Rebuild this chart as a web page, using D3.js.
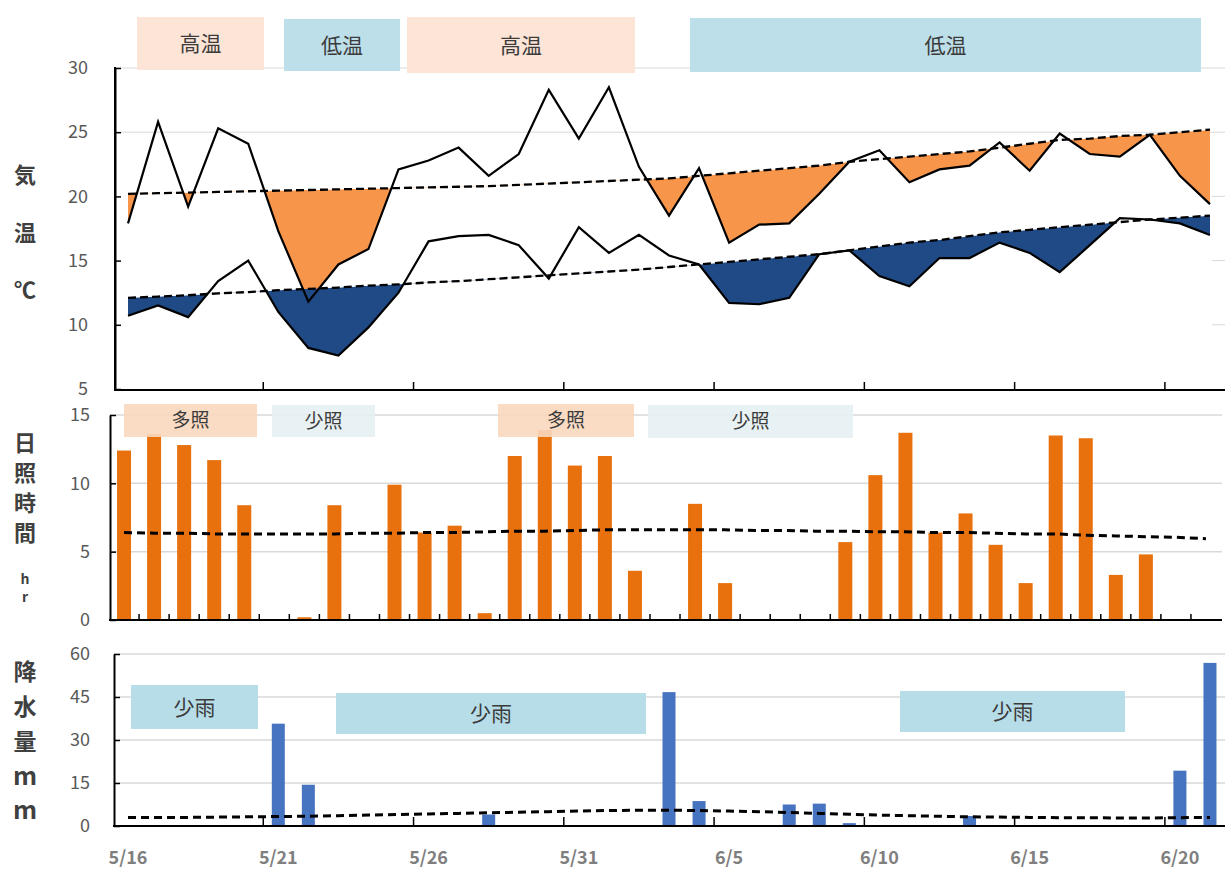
<!DOCTYPE html>
<html><head><meta charset="utf-8">
<script src="https://cdn.jsdelivr.net/npm/d3@7"></script>
<style>body{margin:0;background:#fff}svg{display:block}</style>
</head><body>
<svg id="c" width="1226" height="870"></svg>
<script>
// ---------- data ----------
const dates = ["5/16","5/17","5/18","5/19","5/20","5/21","5/22","5/23","5/24","5/25","5/26","5/27","5/28","5/29","5/30","5/31",
  "6/1","6/2","6/3","6/4","6/5","6/6","6/7","6/8","6/9","6/10","6/11","6/12","6/13","6/14","6/15","6/16","6/17","6/18","6/19","6/20","6/21"];
const dateTickLabels = ["5/16","5/21","5/26","5/31","6/5","6/10","6/15","6/20"];

const tempHigh = [17.9,25.8,19.2,25.3,24.1,17.3,11.8,14.7,15.9,22.1,22.8,23.8,21.6,23.3,28.3,24.5,
  28.5,22.3,18.5,22.2,16.4,17.8,17.9,20.2,22.7,23.6,21.1,22.1,22.4,24.2,22.0,24.9,23.3,23.1,24.8,21.6,19.4];
const tempLow = [10.7,11.5,10.6,13.4,15.0,11.0,8.2,7.6,9.8,12.5,16.5,16.9,17.0,16.2,13.6,17.6,
  15.6,17.0,15.4,14.7,11.7,11.6,12.1,15.5,15.8,13.8,13.0,15.2,15.2,16.4,15.6,14.1,16.2,18.3,18.2,17.9,17.0];
const normalHigh = [20.2,20.25,20.3,20.35,20.4,20.45,20.5,20.55,20.6,20.65,20.7,20.75,20.8,20.9,21.0,21.1,
  21.2,21.3,21.4,21.6,21.8,22.0,22.2,22.4,22.7,22.9,23.1,23.3,23.5,23.8,24.1,24.4,24.5,24.7,24.8,25.0,25.2];
const normalLow = [12.1,12.2,12.3,12.45,12.55,12.7,12.8,12.9,13.05,13.15,13.3,13.4,13.55,13.7,13.85,14.0,
  14.15,14.3,14.5,14.7,14.9,15.1,15.3,15.5,15.8,16.1,16.4,16.6,16.9,17.2,17.4,17.6,17.8,18.0,18.2,18.35,18.5];

const sunshine = [12.4,13.6,12.8,11.7,8.4,0,0.2,8.4,0,9.9,6.4,6.9,0.5,12.0,13.9,11.3,
  12.0,3.6,0,8.5,2.7,0,0,0,5.7,10.6,13.7,6.4,7.8,5.5,2.7,13.5,13.3,3.3,4.8,0,0];
const normalSunshine = [6.4,6.35,6.35,6.3,6.3,6.3,6.3,6.3,6.35,6.35,6.4,6.4,6.45,6.5,6.5,6.55,
  6.6,6.6,6.6,6.6,6.6,6.55,6.55,6.5,6.5,6.45,6.45,6.4,6.4,6.35,6.3,6.3,6.2,6.15,6.1,6.05,5.95];

const rain = [0,0,0,0,0,35.7,14.4,0,0,0,0,0,4.0,0,0,0,
  0,0,46.7,8.7,0,0,7.5,7.8,1.0,0,0,0,3.5,0,0,0,0,0,0,19.3,56.9];
const normalRain = [3.0,3.0,3.0,3.1,3.2,3.3,3.4,3.6,3.8,4.0,4.2,4.4,4.6,4.8,5.0,5.2,
  5.4,5.5,5.5,5.4,5.2,5.0,4.7,4.4,4.1,3.8,3.6,3.4,3.2,3.1,3.0,2.9,2.9,2.8,2.8,2.9,3.0];

const tempTicks = [5,10,15,20,25,30];
const sunTicks = [0,5,10,15];
const rainTicks = [0,15,30,45,60];

const tempLabels = [{t:"高温",k:"hot",x0:137,x1:264,y0:17,y1:70},{t:"低温",k:"cold",x0:284,x1:400,y0:19,y1:71},
  {t:"高温",k:"hot",x0:407,x1:635,y0:17,y1:73},{t:"低温",k:"cold",x0:690,x1:1201,y0:18,y1:72}];
const sunLabels = [{t:"多照",k:"many",x0:124,x1:257,y0:404,y1:437},{t:"少照",k:"few",x0:272,x1:375,y0:405,y1:437},
  {t:"多照",k:"many",x0:498,x1:634,y0:404,y1:437},{t:"少照",k:"few",x0:648,x1:853,y0:405,y1:438}];
const rainLabels = [{t:"少雨",x0:131,x1:258,y0:685,y1:729},{t:"少雨",x0:336,x1:646,y0:693,y1:734},
  {t:"少雨",x0:900,x1:1125,y0:691,y1:732}];

// ---------- drawing ----------
const svg = d3.select("#c");
const FONT = "'Noto Sans CJK JP','Noto Sans',sans-serif";
const boxFill = {hot:"#FCE4D6", cold:"#BDDFEA", many:"#FAD8BF", few:"#E5F1F4"};

function xBand(x0, x1){ return d3.scaleBand().domain(dates).range([x0, x1]).paddingInner(0).paddingOuter(0); }
const xT = xBand(113, 1225), xS = xBand(109, 1221), xR = xBand(113, 1225);
const cx = (sc, i) => sc(dates[i]) + sc.bandwidth()/2;

function yAxis(g, scale, ticks, xPos, pad){
  const ax = d3.axisLeft(scale).tickValues(ticks).tickSizeInner(-6).tickSizeOuter(0).tickPadding(pad);
  const gg = g.append("g").attr("transform", `translate(${xPos},0)`).call(ax);
  gg.select(".domain").attr("stroke","#000").attr("stroke-width",2);
  gg.selectAll(".tick line").attr("stroke","#000").attr("stroke-width",1.5);
  gg.selectAll(".tick text").attr("font-family",FONT).attr("font-size",18).attr("fill","#595959");
  return gg;
}
function xAxisLine(scale, y, x0, x1, every, len){
  svg.append("line").attr("x1",x0).attr("x2",x1).attr("y1",y).attr("y2",y).attr("stroke","#000").attr("stroke-width",2);
  const idx = d3.range(every, dates.length, every);
  svg.append("g").selectAll("line").data(idx).join("line")
    .attr("x1", i => scale(dates[i])).attr("x2", i => scale(dates[i]))
    .attr("y1", y).attr("y2", y - len).attr("stroke","#000").attr("stroke-width",1.5);
}

// ===== Panel 1: temperature =====
const yT = d3.scaleLinear().domain([5,30]).range([389,68]);
[30,25].forEach(v => svg.append("line").attr("x1",115).attr("x2",1225).attr("y1",yT(v)).attr("y2",yT(v)).attr("stroke","#d9d9d9").attr("stroke-width",1));
[20,15,10].forEach(v => svg.append("line").attr("x1",1212).attr("x2",1225).attr("y1",yT(v)).attr("y2",yT(v)).attr("stroke","#d9d9d9").attr("stroke-width",1));

const idxs = d3.range(dates.length);
const defs = svg.append("defs");
function belowClip(id, normal){
  const ln = d3.line().x(i => cx(xT,i)).y(i => yT(normal[i]));
  const d = ln(idxs) + `L${cx(xT,dates.length-1)},${yT(5)+5}L${cx(xT,0)},${yT(5)+5}Z`;
  defs.append("clipPath").attr("id",id).append("path").attr("d",d);
}
belowClip("clipH", normalHigh);
belowClip("clipL", normalLow);
const areaBetween = (a,b) => d3.area().x(i => cx(xT,i)).y0(i => yT(a[i])).y1(i => yT(b[i]))(idxs);
svg.append("path").attr("d", areaBetween(normalHigh, tempHigh)).attr("fill","#F7964A").attr("clip-path","url(#clipH)");
svg.append("path").attr("d", areaBetween(normalLow, tempLow)).attr("fill","#1F4A86").attr("clip-path","url(#clipL)");

const lineT = arr => d3.line().x(i => cx(xT,i)).y(i => yT(arr[i]))(idxs);
[normalHigh, normalLow].forEach(a => svg.append("path").attr("d", lineT(a)).attr("fill","none").attr("stroke","#000").attr("stroke-width",2.3).attr("stroke-dasharray","8,4"));
[tempHigh, tempLow].forEach(a => svg.append("path").attr("d", lineT(a)).attr("fill","none").attr("stroke","#000").attr("stroke-width",2.2).attr("stroke-linejoin","miter"));

yAxis(svg, yT, tempTicks, 115, 27);
svg.append("line").attr("x1",115).attr("x2",115).attr("y1",67).attr("y2",390).attr("stroke","#000").attr("stroke-width",2);
xAxisLine(xT, 390, 114, 1225, 5, 8);

function boxes(list, fillFn, fs, op){
  const g = svg.append("g");
  g.selectAll("rect").data(list).join("rect")
    .attr("x", d => d.x0).attr("y", d => d.y0).attr("width", d => d.x1-d.x0).attr("height", d => d.y1-d.y0)
    .attr("fill", fillFn).attr("opacity", op);
  g.selectAll("text").data(list).join("text")
    .attr("x", d => (d.x0+d.x1)/2).attr("y", d => (d.y0+d.y1)/2).attr("dy","0.36em")
    .attr("text-anchor","middle").attr("font-family",FONT).attr("font-size",fs).attr("fill","#3b3b3b")
    .text(d => d.t);
}
boxes(tempLabels, d => boxFill[d.k], 21, 1);

// ===== Panel 2: sunshine =====
const yS = d3.scaleLinear().domain([0,15]).range([620,415]);
[15,10,5].forEach(v => svg.append("line").attr("x1",110).attr("x2",1222).attr("y1",yS(v)).attr("y2",yS(v)).attr("stroke","#d9d9d9").attr("stroke-width",1.5));
svg.append("g").selectAll("rect").data(idxs.filter(i => sunshine[i] > 0)).join("rect")
  .attr("x", i => cx(xS,i) - 7).attr("width", 14)
  .attr("y", i => yS(sunshine[i])).attr("height", i => yS(0) - yS(sunshine[i]))
  .attr("fill","#E8710D");
boxes(sunLabels, d => boxFill[d.k], 19, 0.9);
svg.append("path").attr("d", d3.line().x(i => cx(xS,i)).y(i => yS(normalSunshine[i]))(idxs))
  .attr("fill","none").attr("stroke","#000").attr("stroke-width",3).attr("stroke-dasharray","8,5");
yAxis(svg, yS, sunTicks, 110, 20);
xAxisLine(xS, 620, 109, 1222, 1, 6);

// ===== Panel 3: rain =====
const yR = d3.scaleLinear().domain([0,60]).range([826,654]);
[60,45,30,15].forEach(v => svg.append("line").attr("x1",114).attr("x2",1225).attr("y1",yR(v)).attr("y2",yR(v)).attr("stroke","#d9d9d9").attr("stroke-width",1.5));
boxes(rainLabels, "#B7DDE8", 21, 1);
svg.append("g").selectAll("rect").data(idxs.filter(i => rain[i] > 0)).join("rect")
  .attr("x", i => cx(xR,i) - 6.5).attr("width", 13)
  .attr("y", i => yR(rain[i])).attr("height", i => yR(0) - yR(rain[i]))
  .attr("fill","#4774C0");
svg.append("path").attr("d", d3.line().x(i => cx(xR,i)).y(i => yR(normalRain[i]))(idxs))
  .attr("fill","none").attr("stroke","#000").attr("stroke-width",3).attr("stroke-dasharray","8,5");
yAxis(svg, yR, rainTicks, 114, 24);
xAxisLine(xR, 826, 113, 1225, 5, 9);

// date labels
svg.append("g").selectAll("text").data(dateTickLabels).join("text")
  .attr("x", d => xR(d) + xR.bandwidth()/2).attr("y", 864)
  .attr("text-anchor","middle").attr("font-family",FONT).attr("font-size",18).attr("font-weight","bold")
  .attr("fill","#7f7f7f").text(d => d);

// axis titles (vertical)
const titles = [
  {t:"気",y:175,fs:22},{t:"温",y:233,fs:22},{t:"℃",y:290,fs:22},
  {t:"日",y:443,fs:22},{t:"照",y:473,fs:22},{t:"時",y:503,fs:22},{t:"間",y:533,fs:22},
  {t:"h",y:579,fs:14},{t:"r",y:597,fs:14},
  {t:"降",y:672,fs:23},{t:"水",y:707,fs:23},{t:"量",y:742,fs:23},{t:"m",y:776,fs:25},{t:"m",y:810,fs:25}
];
svg.append("g").selectAll("text").data(titles).join("text")
  .attr("x", 25).attr("y", d => d.y).attr("dy","0.36em").attr("text-anchor","middle")
  .attr("font-family",FONT).attr("font-size", d => d.fs).attr("font-weight","bold").attr("fill","#404040")
  .text(d => d.t);
</script>
</body></html>
